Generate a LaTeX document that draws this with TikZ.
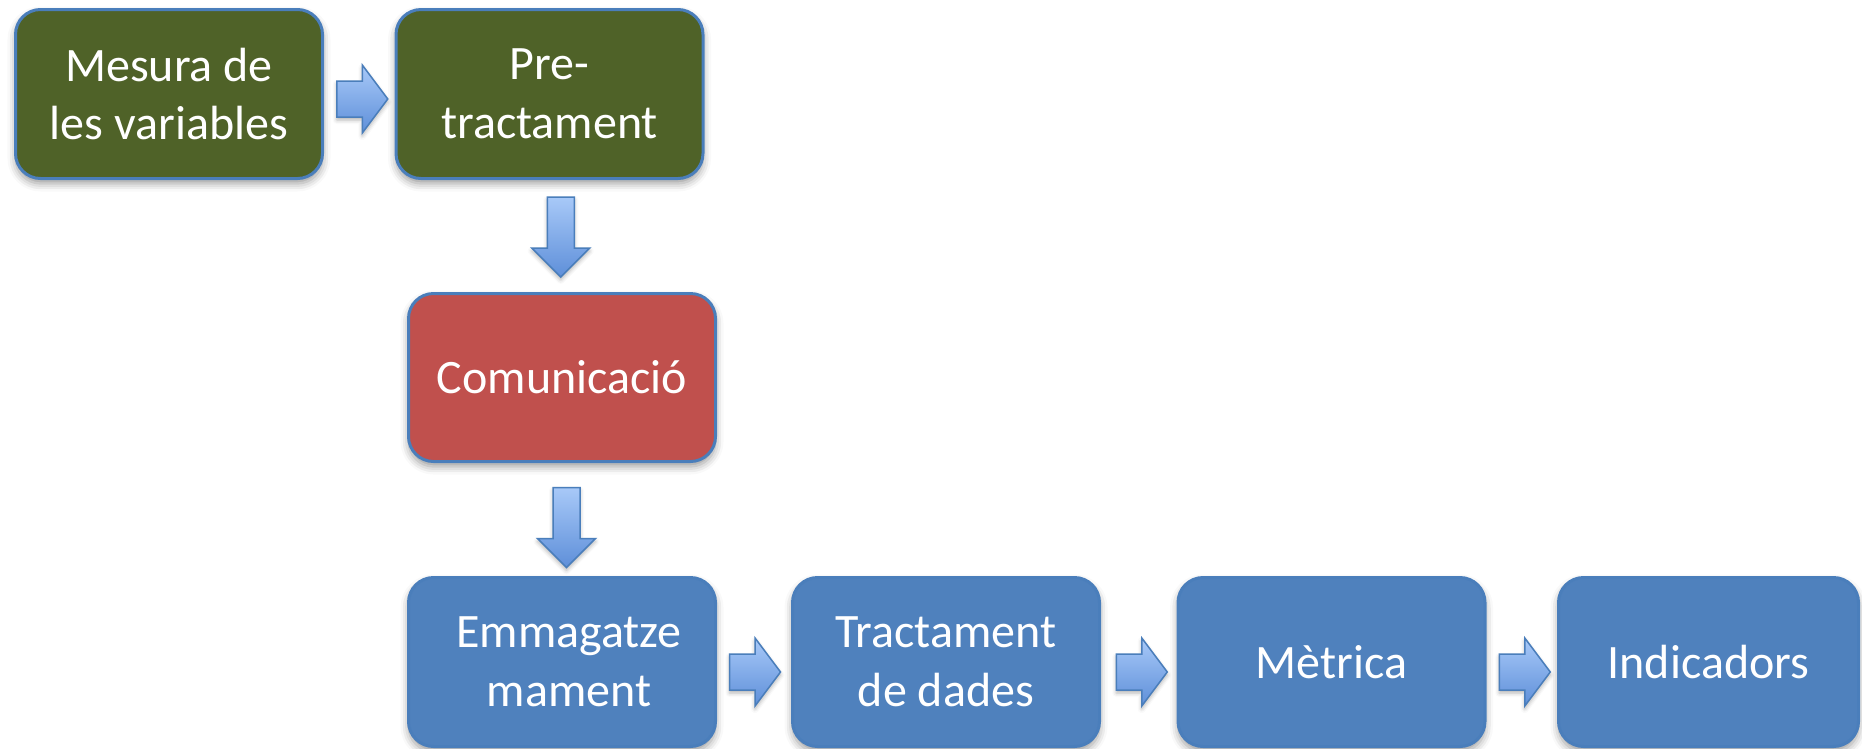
\documentclass[tikz,border=0pt]{standalone}
\usepackage{fontspec}
\setmainfont{Carlito}
\usetikzlibrary{calc,shadows.blur}
\definecolor{olivebox}{HTML}{4F6228}
\definecolor{redbox}{HTML}{C0504D}
\definecolor{bluebox}{HTML}{4F81BD}
\definecolor{edgeblue}{HTML}{4A7EBB}
\definecolor{arrowtop}{HTML}{A8C9F8}
\definecolor{arrowbot}{HTML}{5E8FD9}
\definecolor{arrowedge}{HTML}{4A7EBB}
\begin{document}
\begin{tikzpicture}[x=1pt,y=-1pt,
  box/.style={draw=edgeblue, line width=3pt, rounded corners=25pt,
    minimum width=307pt, minimum height=169pt, inner sep=0pt,
    text=white, align=center, font=\fontsize{48}{58.5}\selectfont,
    blur shadow={shadow xshift=0pt, shadow yshift=-5pt, shadow blur radius=8pt, shadow opacity=40}},
  blockarrow/.style={draw=arrowedge, line width=1.5pt, line join=miter,
    top color=arrowtop, bottom color=arrowbot,
    blur shadow={shadow xshift=0pt, shadow yshift=-3pt, shadow blur radius=4pt, shadow opacity=30}},
  rarrow/.pic={\path[blockarrow] (-25.5,-18) -- (0,-18) -- (0,-34) -- (25.5,0) -- (0,34) -- (0,18) -- (-25.5,18) -- cycle;},
  darrow/.pic={\path[blockarrow] (-13.5,-40) -- (13.5,-40) -- (13.5,11) -- (29,11) -- (0,40) -- (-29,11) -- (-13.5,11) -- cycle;}
]
\useasboundingbox (0,0) rectangle (1862,748);

\node[box, fill=olivebox] (b1) at (169,94) {Mesura de\\les variables};
\node[box, fill=olivebox] (b2) at (549.5,94) {Pre-\\tractament};
\node[box, fill=redbox, minimum height=168pt] (b3) at (562,377.5) {Comunicació};
\node[box, fill=bluebox] (b4) at (562,662) {\hspace*{14pt}Emmagatze\\\hspace*{14pt}mament};
\node[box, fill=bluebox] (b5) at (946,662) {Tractament\\de dades};
\node[box, fill=bluebox] (b6) at (1331.5,662) {Mètrica};
\node[box, fill=bluebox, minimum width=300pt] (b7) at (1708.5,662) {Indicadors};

\pic at ($(b1.east)!0.5!(b2.west)+(3,5)$) {rarrow};
\pic at ($(b2.south)!0.5!(b3.north)+(5,1)$) {darrow};
\pic at ($(b3.south)!0.5!(b4.north)+(4.5,8)$) {darrow};
\pic at ($(b4.east)!0.5!(b5.west)+(1,10)$) {rarrow};
\pic at ($(b5.east)!0.5!(b6.west)+(3,10)$) {rarrow};
\pic at ($(b6.east)!0.5!(b7.west)+(3,10)$) {rarrow};
\end{tikzpicture}
\end{document}
